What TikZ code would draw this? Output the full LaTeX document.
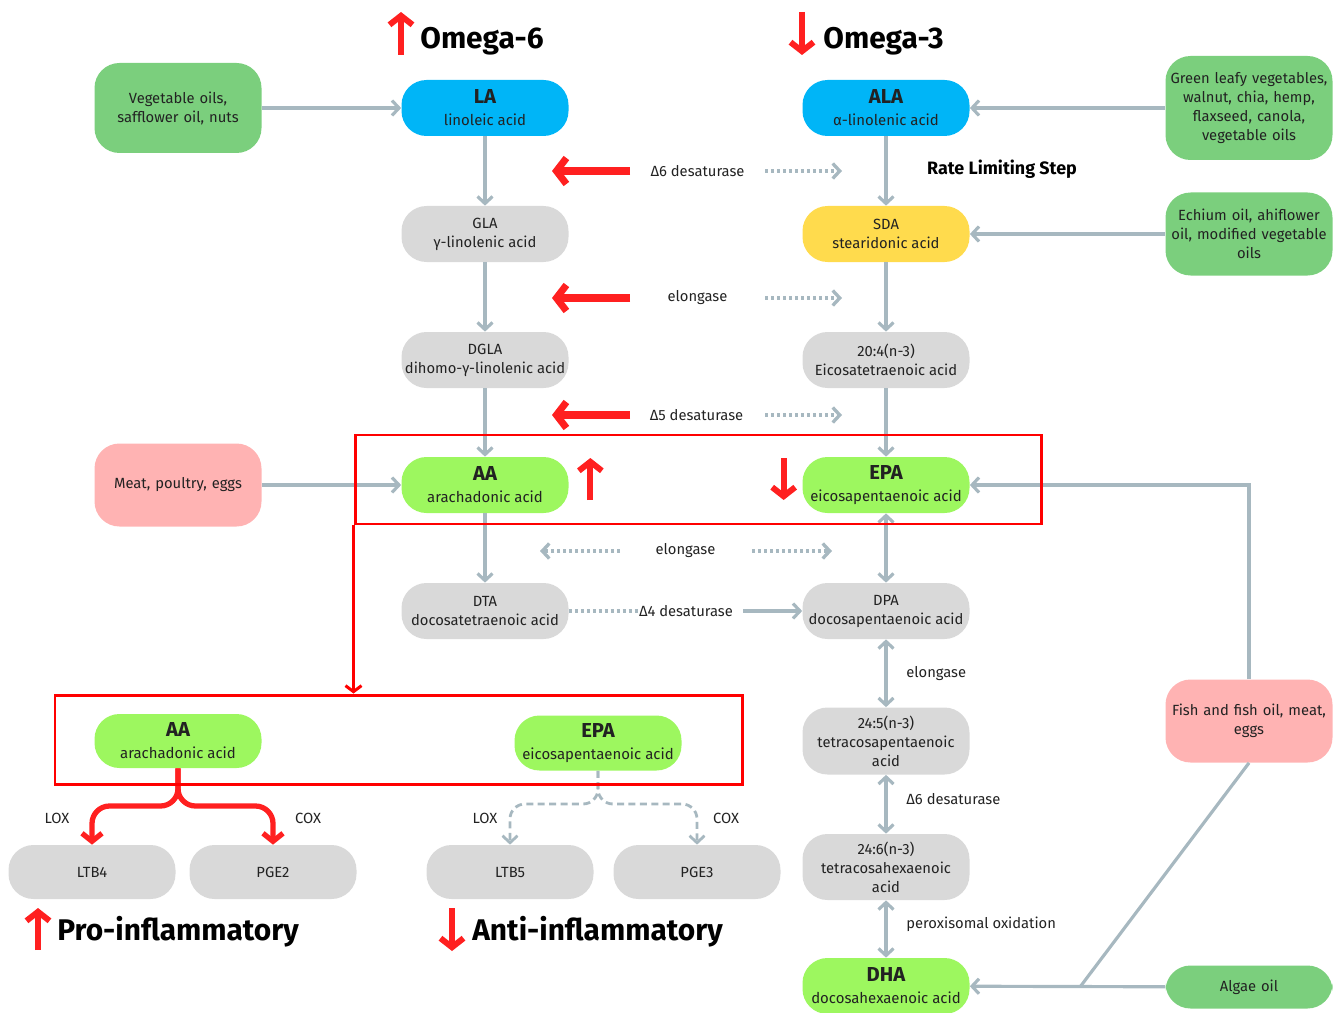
\documentclass[tikz,border=0pt]{standalone}
\usepackage{fontspec}
\setmainfont{Fira Sans}
\usetikzlibrary{arrows.meta, positioning}

\definecolor{omegablue}{HTML}{00B5F7}
\definecolor{acidgray}{HTML}{D9D9D9}
\definecolor{sdayellow}{HTML}{FFDB4D}
\definecolor{limegreen}{HTML}{9DF75F}
\definecolor{foodgreen}{HTML}{7BCF7D}
\definecolor{foodpink}{HTML}{FFB3B3}
\definecolor{flowgray}{HTML}{A7B8C0}
\definecolor{alertred}{HTML}{FF2020}
\definecolor{txtdark}{HTML}{222222}

\begin{document}
\begin{tikzpicture}[auto, >={Straight Barb[length=1.4mm,width=3mm]}, font=\fontsize{8.4}{10.8}\selectfont, text=txtdark]
			\tikzstyle{acid} = [rectangle, rounded corners=0.5cm, minimum width=3.34cm, minimum height=1.12cm, align=center, inner sep=1pt]
			\tikzstyle{key} = [acid, font=\fontsize{8.5}{12.5}\selectfont]
			\tikzstyle{food} = [acid, fill=foodgreen, text width=3.2cm]
			\tikzstyle{flow} = [draw=flowgray, line width=1.8pt, ->]
			\tikzstyle{dots} = [draw=flowgray, line width=1.9pt, dash pattern=on 1.7pt off 1.7pt, ->]
			\tikzstyle{dashfork} = [draw=flowgray, line width=1.6pt, dash pattern=on 4pt off 2.5pt, rounded corners=0.3cm, ->]
			\tikzstyle{enz} = [draw=alertred, line width=4pt, -{Straight Barb[length=2mm,width=5.2mm]}]
			\tikzstyle{bigred} = [draw=alertred, line width=3.4pt, -{Straight Barb[length=1.8mm,width=4.6mm]}]
			\tikzstyle{redfork} = [draw=alertred, line width=3pt, rounded corners=0.35cm, -{Straight Barb[length=1.6mm,width=4mm]}]
			\tikzstyle{redbox} = [draw=red, line width=1.7pt, rectangle, inner sep=0pt]
			\tikzstyle{lbl} = [inner sep=0pt]
			\tikzstyle{title} = [inner sep=0pt, anchor=west, font=\fontsize{17}{20}\selectfont\bfseries, text=black]

			\useasboundingbox (0, 0) rectangle (26.74, -20.24);

			% omega-6 column
			\node[key, fill=omegablue]	at (9.70, -2.16)		(la)	{{\fontsize{11.5}{13}\selectfont\bfseries LA}\\linoleic acid};
			\node[acid, fill=acidgray]	at (9.70, -4.68)		(gla)	{GLA\\γ-linolenic acid};
			\node[acid, fill=acidgray]	at (9.70, -7.20)		(dgla)	{DGLA\\dihomo-γ-linolenic acid};
			\node[key, fill=limegreen]	at (9.70, -9.70)		(aa)	{{\fontsize{11.5}{13}\selectfont\bfseries AA}\\arachadonic acid};
			\node[acid, fill=acidgray]	at (9.70, -12.22)		(dta)	{DTA\\docosatetraenoic acid};

			% omega-3 column
			\node[key, fill=omegablue]	at (17.72, -2.16)		(ala)	{{\fontsize{11.5}{13}\selectfont\bfseries ALA}\\α-linolenic acid};
			\node[acid, fill=sdayellow]	at (17.72, -4.68)		(sda)	{SDA\\stearidonic acid};
			\node[acid, fill=acidgray]	at (17.72, -7.20)		(eta)	{20:4(n-3)\\Eicosatetraenoic acid};
			\node[key, fill=limegreen]	at (17.72, -9.70)		(epa)	{{\fontsize{11.5}{13}\selectfont\bfseries EPA}\\eicosapentaenoic acid};
			\node[acid, fill=acidgray]	at (17.72, -12.22)		(dpa)	{DPA\\docosapentaenoic acid};
			\node[acid, fill=acidgray, minimum height=1.34cm]	at (17.72, -14.82)	(tpa)	{24:5(n-3)\\tetracosapentaenoic\\acid};
			\node[acid, fill=acidgray, minimum height=1.32cm]	at (17.72, -17.34)	(tha)	{24:6(n-3)\\tetracosahexaenoic\\acid};
			\node[key, fill=limegreen]	at (17.72, -19.72)		(dha)	{{\fontsize{11.5}{13}\selectfont\bfseries DHA}\\docosahexaenoic acid};

			% food sources
			\node[food, minimum height=1.8cm]	at (3.56, -2.16)		(vegoil)	{Vegetable oils,\\safflower oil, nuts};
			\node[food, fill=foodpink, minimum height=1.66cm]	at (3.56, -9.70)	(meat)	{Meat, poultry, eggs};
			\node[food, minimum height=2.08cm]	at (24.98, -2.16)		(leafy)	{Green leafy vegetables,\\walnut, chia, hemp,\\flaxseed, canola,\\vegetable oils};
			\node[food, minimum height=1.66cm]	at (24.98, -4.68)		(echium)	{Echium oil, ahiflower\\oil, modified vegetable\\oils};
			\node[food, fill=foodpink, minimum height=1.66cm]	at (24.98, -14.42)	(fish)	{Fish and fish oil, meat,\\eggs};
			\node[food, minimum height=0.86cm]	at (24.98, -19.74)		(algae)	{Algae oil};

			% eicosanoids
			\node[key, fill=limegreen, minimum height=1.08cm]	at (3.56, -14.82)	(aa2)	{{\fontsize{11.5}{13}\selectfont\bfseries AA}\\arachadonic acid};
			\node[key, fill=limegreen, minimum height=1.1cm]	at (11.96, -14.86)	(epa2)	{{\fontsize{11.5}{13}\selectfont\bfseries EPA}\\eicosapentaenoic acid};
			\node[acid, fill=acidgray, minimum height=1.08cm]	at (1.84, -17.44)	(ltb4)	{LTB4};
			\node[acid, fill=acidgray, minimum height=1.08cm]	at (5.46, -17.44)	(pge2)	{PGE2};
			\node[acid, fill=acidgray, minimum height=1.08cm]	at (10.20, -17.44)	(ltb5)	{LTB5};
			\node[acid, fill=acidgray, minimum height=1.08cm]	at (13.94, -17.44)	(pge3)	{PGE3};

			% enzyme labels
			\node[lbl]	at (13.95, -3.42)		(d6)	{Δ6 desaturase};
			\node[lbl]	at (13.95, -5.96)		(el1)	{elongase};
			\node[lbl]	at (13.93, -8.30)		(d5)	{Δ5 desaturase};
			\node[lbl]	at (13.71, -11.02)		(el2)	{elongase};
			\node[lbl]	at (13.72, -12.22)		(d4)	{Δ4 desaturase};
			\node[lbl, anchor=west]	at (18.12, -13.48)	(el3)	{elongase};
			\node[lbl, anchor=west]	at (18.12, -15.98)	(d6b)	{Δ6 desaturase};
			\node[lbl, anchor=west]	at (18.12, -18.48)	(perox)	{peroxisomal oxidation};
			\node[lbl]	at (1.14, -16.36)		(lox1)	{LOX};
			\node[lbl]	at (6.16, -16.36)		(cox1)	{COX};
			\node[lbl]	at (9.70, -16.36)		(lox2)	{LOX};
			\node[lbl]	at (14.52, -16.36)		(cox2)	{COX};
			\node[lbl, font=\fontsize{10.2}{12}\selectfont\bfseries, text=black]	at (20.04, -3.38)	(rate)	{Rate Limiting Step};

			% titles
			\node[title]	at (8.40, -0.82)		(om6)	{Omega-6};
			\node[title]	at (16.46, -0.82)		(om3)	{Omega-3};
			\node[title]	at (1.14, -18.64)		(pro)	{Pro-inflammatory};
			\node[title]	at (9.44, -18.64)		(anti)	{Anti-inflammatory};

			\path[flow]
			(vegoil)	edge	(la)
			(leafy)	edge	(ala)
			(echium)	edge	(sda)
			(meat)	edge	(aa)
			(la)	edge	(gla)
			(gla)	edge	(dgla)
			(dgla)	edge	(aa)
			(aa)	edge	(dta)
			(ala)	edge	(sda)
			(sda)	edge	(eta)
			(eta)	edge	(epa)
			(algae)	edge	(dha);

			\path[flow, <->]
			(epa)	edge	(dpa)
			(dpa)	edge	(tpa)
			(tpa)	edge	(tha)
			(tha)	edge	(dha);

			\coordinate (jn) at (21.60, -19.74);
			\draw[flow] (fish.north) |- (epa.east);
			\draw[flow, -] (fish.south) -- (jn);
			\draw[dots, -] (dta) -- (d4);
			\draw[flow] ([xshift=2mm]d4.east) -- (dpa);

			% enzyme arrows
			\draw[enz] (12.60,0 |- d6) -- (11.04,0 |- d6);
			\draw[enz] (12.60,0 |- el1) -- (11.04,0 |- el1);
			\draw[enz] (12.60,0 |- d5) -- (11.04,0 |- d5);
			\draw[dots] (15.30,0 |- d6) -- (16.84,0 |- d6);
			\draw[dots] (15.30,0 |- el1) -- (16.84,0 |- el1);
			\draw[dots] (15.30,0 |- d5) -- (16.84,0 |- d5);
			\draw[dots] (12.40,0 |- el2) -- (10.80,0 |- el2);
			\draw[dots] (15.04,0 |- el2) -- (16.64,0 |- el2);

			% up and down marks
			\draw[bigred] ([xshift=-3.8mm, yshift=-2.8mm]om6.west) -- ++(0, 0.86);
			\draw[bigred] ([xshift=-4.2mm, yshift=5.8mm]om3.west) -- ++(0, -0.86);
			\draw[bigred] ([xshift=4.3mm, yshift=-3mm]aa.east) -- ++(0, 0.84);
			\draw[bigred] ([xshift=-3.7mm, yshift=5.4mm]epa.west) -- ++(0, -0.84);
			\draw[bigred] ([xshift=-3.8mm, yshift=-3.6mm]pro.west) -- ++(0, 0.84);
			\draw[bigred] ([xshift=-4mm, yshift=4.8mm]anti.west) -- ++(0, -0.86);

			% forks
			\coordinate (aafork) at (3.56, -16.12);
			\coordinate (epafork) at (11.96, -16.08);
			\draw[redfork] (aa2.south) -- (aafork) -| (ltb4.north);
			\draw[redfork] (aa2.south) -- (aafork) -| (pge2.north);
			\draw[dashfork] (epa2.south) -- (epafork) -| (ltb5.north);
			\draw[dashfork] (epa2.south) -- (epafork) -| (pge3.north);

			% highlight boxes
			\node[redbox, minimum width=13.72cm, minimum height=1.78cm]	at (13.96, -9.59)	(topbox)	{};
			\node[redbox, minimum width=13.74cm, minimum height=1.78cm]	at (7.97, -14.79)	(lowbox)	{};
			\draw[draw=red, line width=1.7pt, -{Straight Barb[length=1.2mm,width=3.2mm]}] (topbox.south west) -- (topbox.south west |- lowbox.north);
\end{tikzpicture}
\end{document}
